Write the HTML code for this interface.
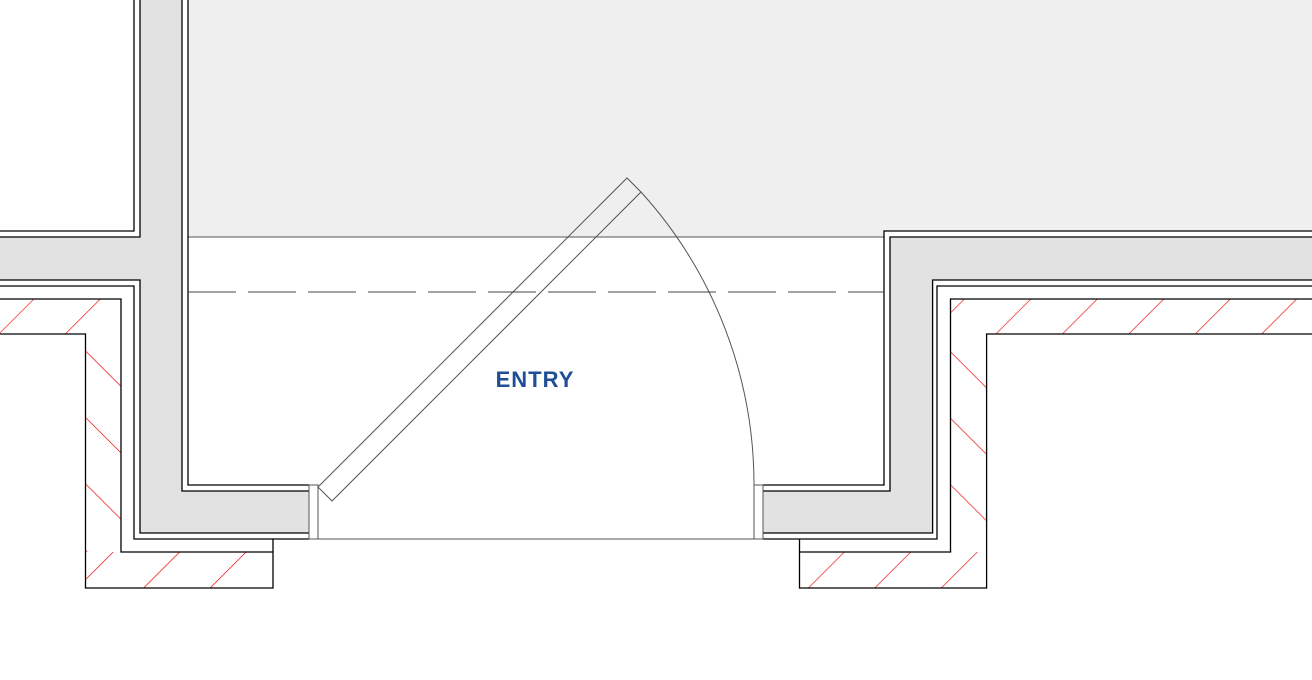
<!DOCTYPE html>
<html><head><style>html,body{margin:0;padding:0;background:#fff}svg{display:block}</style></head><body>
<svg width="1312" height="680" viewBox="0 0 1312 680" xmlns="http://www.w3.org/2000/svg">
<defs>
<pattern id="hf" patternUnits="userSpaceOnUse" width="47" height="47" patternTransform="rotate(45)">
<line x1="0" y1="0" x2="0" y2="47" stroke="#e00" stroke-width="1.3"/></pattern>
<pattern id="hb" patternUnits="userSpaceOnUse" width="47" height="47" patternTransform="rotate(-45)">
<line x1="0" y1="0" x2="0" y2="47" stroke="#e00" stroke-width="1.3"/></pattern>
</defs>
<rect width="1312" height="680" fill="#fff"/>
<rect x="188" y="0" width="696" height="237" fill="#efefef"/>
<rect x="884" y="0" width="428" height="231" fill="#efefef"/>
<line x1="188" y1="237" x2="884" y2="237" stroke="#555" stroke-width="1"/>
<path d="M0 237H140V0H182V491H309V533H140V280H0Z" fill="#e2e2e2"/>
<path d="M763 491H890V237H1312V280H932.6V533H763Z" fill="#e2e2e2"/>
<rect x="0" y="299" width="121" height="35" fill="url(#hf)"/>
<rect x="85.5" y="334" width="35.5" height="218" fill="url(#hb)"/>
<rect x="85.5" y="552" width="187.5" height="36" fill="url(#hf)"/>
<rect x="950.5" y="299" width="362" height="35" fill="url(#hf)"/>
<rect x="950.5" y="334" width="36" height="218" fill="url(#hb)"/>
<rect x="799.5" y="552" width="187" height="36" fill="url(#hf)"/>
<g fill="none" stroke="#000" stroke-width="1.3">
<path d="M0 231H134V0"/>
<path d="M0 237H140V0"/>
<path d="M0 280H140V533H309"/>
<path d="M0 286H134V539H309"/>
<path d="M182 0V491H309"/>
<path d="M188 0V485H309"/>
<path d="M0 299H121V552H273V588H85.5V334H0"/>
<path d="M273 539V552"/>
<path d="M763 485H884V231H1312"/>
<path d="M763 491H890V237H1312"/>
<path d="M763 533H932.6V280H1312"/>
<path d="M763 539H937V286H1312"/>
<path d="M1312 299H950.5V552H799.5V588H986.6V334H1312"/>
<path d="M799.5 539V552"/>
</g>
<g fill="none" stroke="#555" stroke-width="1">
<rect x="309" y="485" width="9" height="54"/>
<rect x="754" y="485" width="9" height="54"/>
<line x1="318" y1="539" x2="754" y2="539"/>
<path d="M318 487L627 178L641 192L332 501Z"/>
<path d="M641 192A436 436 0 0 1 754 485"/>
<line x1="188" y1="292" x2="884" y2="292" stroke="#444" stroke-dasharray="48,12"/>
</g>
<text x="535" y="387" text-anchor="middle" font-family="Liberation Sans, sans-serif" font-size="22" font-weight="bold" letter-spacing="1" fill="#1f4e96">ENTRY</text>
</svg>
</body></html>
